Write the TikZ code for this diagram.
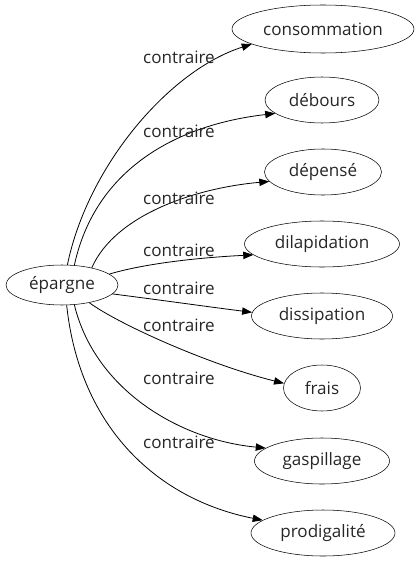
\documentclass[tikz,border=0pt]{standalone}
\usepackage{fontspec}
\setmainfont{Open Sans}
\usetikzlibrary{shapes.geometric,arrows.meta}
\begin{document}
\begin{tikzpicture}[x=0.75pt,y=-0.75pt,
  word/.style={draw,ellipse,inner sep=0pt,minimum height=34.5pt,font=\fontsize{12.8}{14}\selectfont,text=black!85},
  lbl/.style={font=\fontsize{12.8}{14}\selectfont,inner sep=0pt,text=black!85},
  rel/.style={-{Triangle[length=7.5pt,width=5.5pt]},line width=0.6pt}]
\useasboundingbox (0,0) rectangle (419,563);
\node[word,minimum width=84pt,minimum height=30pt] (ep) at (62,285) {épargne};
\node[word,minimum width=136.5pt,minimum height=36pt] (t1) at (323,29) {consommation};
\node[word,minimum width=85.5pt] (t2) at (322,100) {débours};
\node[word,minimum width=87.75pt] (t3) at (323,172) {dépensé};
\node[word,minimum width=116.25pt] (t4) at (322,244) {dilapidation};
\node[word,minimum width=105.75pt] (t5) at (322,316) {dissipation};
\node[word,minimum width=57.75pt] (t6) at (322,388) {frais};
\node[word,minimum width=101.25pt] (t7) at (322,461) {gaspillage};
\node[word,minimum width=108pt] (t8) at (323,533) {prodigalité};
\draw[rel] (ep.75) .. controls (88,165) and (170,70) .. (t1.192);
\draw[rel] (ep.58) .. controls (95,170) and (175,125) .. (t2.196);
\draw[rel] (ep.30) .. controls (115,215) and (195,188) .. (t3.190);
\draw[rel] (ep.13) .. controls (150,262) and (210,257) .. (t4.189);
\draw[rel] (ep.-10) .. controls (160,300) and (210,307) .. (t5.177);
\draw[rel] (ep.-33) .. controls (120,325) and (210,365) .. (t6.173);
\draw[rel] (ep.-58) .. controls (95,390) and (180,440) .. (t7.167);
\draw[rel] (ep.-77) .. controls (80,430) and (160,500) .. (t8.168);
\node[lbl] (l1) at (179,57) {contraire};
\node[lbl] (l2) at (179,131) {contraire};
\node[lbl] (l3) at (179,198) {contraire};
\node[lbl] (l4) at (179,250) {contraire};
\node[lbl] (l5) at (179,288) {contraire};
\node[lbl] (l6) at (179,325) {contraire};
\node[lbl] (l7) at (179,378) {contraire};
\node[lbl] (l8) at (179,442) {contraire};
\end{tikzpicture}
\end{document}
